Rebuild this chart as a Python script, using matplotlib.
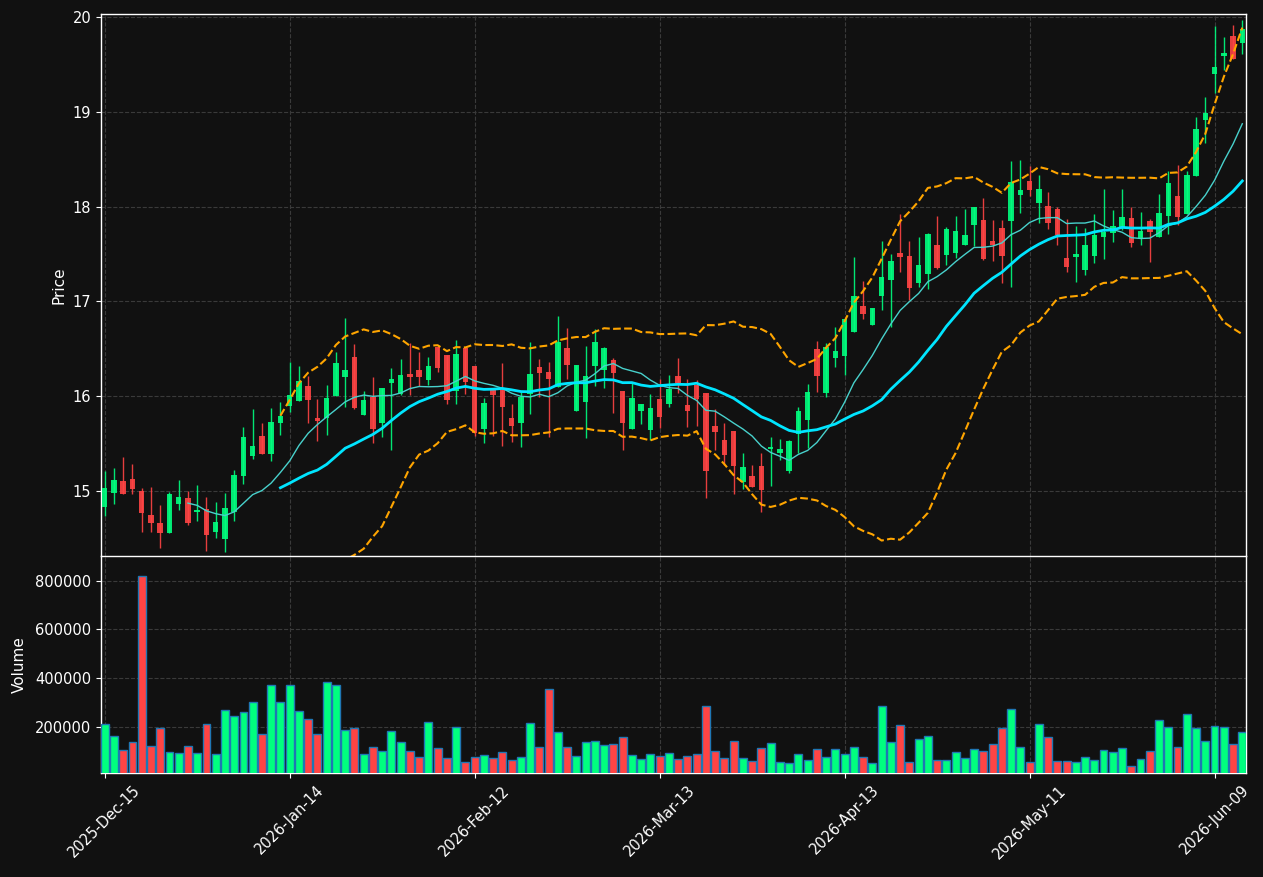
import numpy as np
import pandas as pd
import matplotlib
matplotlib.use("Agg")
import matplotlib.pyplot as plt

opens = [14.835, 14.983, 15.106, 15.127, 15.0, 14.747, 14.663, 14.561, 14.866, 14.926,
         14.782, 14.81, 14.571, 14.497, 14.782, 15.162, 15.373, 15.58, 15.394, 15.721,
         15.90, 15.953, 16.108, 15.774, 15.774, 16.002, 16.206, 16.414, 15.805, 15.995,
         15.721, 16.143, 16.023, 16.234, 16.277, 16.171, 16.516, 16.435, 16.059, 16.505,
         16.319, 15.654, 16.066, 16.066, 15.77, 15.721, 16.023, 16.308, 16.256, 16.101,
         16.509, 15.848, 15.943, 16.322, 16.28, 16.382, 16.055, 15.658, 15.848, 15.647,
         15.971, 15.921, 16.213, 15.907, 16.118, 16.033, 15.685, 15.538, 15.633, 15.098,
         15.158, 15.263, 15.446, 15.404, 15.211, 15.604, 15.752, 16.498, 16.038, 16.407,
         16.428, 16.681, 16.952, 16.755, 17.061, 17.23, 17.514, 17.479, 17.198, 17.293,
         17.595, 17.49, 17.514, 17.595, 17.806, 17.859, 17.637, 17.774, 17.852, 18.122,
         18.27, 18.041, 18.006, 17.975, 17.458, 17.472, 17.331, 17.483, 17.683, 17.725,
         17.788, 17.88, 17.655, 17.848, 17.683, 17.905, 18.112, 17.922, 18.326, 18.917,
         19.402, 19.592, 19.80, 19.729]
highs = [15.215, 15.239, 15.355, 15.285, 15.028, 15.042, 14.849, 14.986, 15.116, 14.997,
         15.06, 14.933, 14.881, 14.975, 15.222, 15.672, 15.862, 15.714, 15.872, 15.943,
         16.361, 16.315, 16.213, 15.967, 16.115, 16.47, 16.822, 16.547, 16.052, 16.199,
         16.087, 16.294, 16.396, 16.558, 16.463, 16.417, 16.53, 16.435, 16.59, 16.505,
         16.319, 15.985, 16.066, 16.347, 15.914, 16.048, 16.568, 16.389, 16.361, 16.846,
         16.716, 16.329, 16.53, 16.706, 16.523, 16.403, 16.055, 16.147, 15.918, 16.02,
         16.178, 16.22, 16.399, 16.185, 16.167, 16.033, 15.861, 15.713, 15.633, 15.397,
         15.274, 15.397, 15.566, 15.545, 15.538, 15.882, 16.125, 16.579, 16.558, 16.734,
         16.815, 17.465, 17.212, 16.931, 17.634, 17.497, 17.919, 17.634, 17.676, 17.718,
         17.901, 17.78, 17.901, 17.971, 17.992, 18.087, 17.859, 17.859, 18.477, 18.492,
         18.428, 18.33, 18.15, 17.992, 17.866, 17.795, 17.771, 17.922, 18.182, 17.964,
         18.182, 17.999, 17.94, 17.866, 18.13, 18.379, 18.442, 18.379, 18.949, 19.16,
         19.905, 19.786, 19.916, 19.969]
lows = [14.74, 14.859, 14.965, 14.972, 14.571, 14.564, 14.402, 14.561, 14.796, 14.638,
        14.68, 14.364, 14.501, 14.353, 14.68, 15.077, 15.334, 15.394, 15.32, 15.587,
        15.837, 15.953, 15.721, 15.524, 15.594, 16.002, 15.89, 15.865, 15.805, 15.503,
        15.573, 15.433, 16.013, 16.013, 16.108, 16.118, 16.259, 15.914, 15.914, 16.02,
        15.58, 15.503, 15.58, 15.478, 15.514, 15.461, 15.809, 15.995, 15.573, 16.101,
        16.178, 15.848, 15.556, 16.111, 16.09, 15.819, 15.433, 15.658, 15.707, 15.538,
        15.661, 15.886, 16.037, 15.671, 15.685, 14.922, 15.432, 15.274, 14.965, 15.017,
        15.045, 14.78, 15.056, 15.327, 15.193, 15.397, 15.455, 16.041, 15.988, 16.312,
        16.224, 16.681, 16.811, 16.755, 16.906, 16.727, 17.314, 17.015, 17.156, 17.128,
        17.342, 17.384, 17.454, 17.595, 17.584, 17.437, 17.43, 17.198, 17.155, 17.929,
        18.112, 17.823, 17.767, 17.591, 17.31, 17.205, 17.275, 17.40, 17.45, 17.623,
        17.753, 17.578, 17.595, 17.42, 17.683, 17.711, 17.806, 17.922, 18.326, 18.668,
        19.195, 19.44, 19.561, 19.606]
closes = [15.035, 15.116, 14.972, 15.025, 14.772, 14.666, 14.561, 14.968, 14.937, 14.666,
          14.8, 14.539, 14.673, 14.821, 15.169, 15.57, 15.475, 15.394, 15.728, 15.791,
          16.013, 16.161, 15.964, 15.742, 15.981, 16.35, 16.277, 15.879, 15.96, 15.658,
          16.087, 16.182, 16.224, 16.203, 16.203, 16.319, 16.301, 15.964, 16.445, 16.154,
          15.616, 15.925, 16.013, 15.89, 15.689, 15.992, 16.234, 16.248, 16.182, 16.575,
          16.333, 16.329, 16.213, 16.572, 16.509, 16.248, 15.721, 15.981, 15.918, 15.876,
          15.784, 16.076, 16.135, 15.844, 15.967, 15.211, 15.626, 15.379, 15.263, 15.253,
          15.045, 15.014, 15.464, 15.443, 15.527, 15.844, 16.042, 16.217, 16.519, 16.477,
          16.815, 17.057, 16.871, 16.931, 17.258, 17.427, 17.472, 17.145, 17.384, 17.711,
          17.356, 17.764, 17.743, 17.697, 17.992, 17.447, 17.595, 17.479, 18.259, 18.175,
          18.175, 18.186, 17.831, 17.70, 17.366, 17.50, 17.595, 17.701, 17.732, 17.796,
          17.89, 17.613, 17.746, 17.736, 17.933, 18.249, 17.89, 18.333, 18.819, 18.988,
          19.473, 19.62, 19.561, 19.874]
volumes = [212000, 163000, 105600, 138400, 819000, 122000, 195800, 97400, 93300, 122000,
           93300, 212000, 89200, 269600, 245000, 261400, 302400, 171200, 372100, 302400,
           372100, 265500, 232700, 171200, 384400, 372100, 187600, 195800, 89200, 117900,
           101500, 183500, 138400, 101500, 76700, 220400, 113800, 72700, 199900, 56400,
           76700, 85100, 72700, 97400, 64600, 76700, 216300, 117900, 355700, 179400,
           117900, 81000, 138400, 142500, 126000, 130200, 158900, 85100, 68600, 89200,
           81000, 93300, 68600, 81000, 89200, 286000, 101500, 72700, 142500, 72700,
           60500, 113800, 134300, 56400, 52300, 89200, 64600, 109700, 76700, 109700,
           89200, 117900, 76700, 52300, 286000, 138400, 208100, 56400, 150700, 163000,
           64600, 64600, 97400, 72700, 109700, 101500, 130200, 195800, 273700, 117900,
           56400, 212200, 158900, 60500, 60500, 56400, 76700, 64600, 105600, 97400,
           113800, 39900, 68600, 101500, 228600, 199900, 117900, 253200, 195800, 142500,
           204000, 199900, 130200, 179400]
tick_labels = ['2025-Dec-15', '2026-Jan-14', '2026-Feb-12', '2026-Mar-13',
               '2026-Apr-13', '2026-May-11', '2026-Jun-09']

BG = '#111111'
UP = '#00ff7f'
DOWN = '#ff4444'
FG = 'white'

o = np.array(opens); h = np.array(highs); l = np.array(lows); c = np.array(closes)
v = np.array(volumes)
n = len(c)
x = np.arange(n)
up = c >= o
cols = np.where(up, UP, DOWN)

cs = pd.Series(c)
mav10 = cs.rolling(10).mean()
mav20 = cs.rolling(20).mean()
std20 = cs.rolling(20).std()
bb_up = mav20 + 2 * std20
bb_lo = mav20 - 2 * std20

fig = plt.figure(figsize=(12.63, 8.77), dpi=100, facecolor=BG)
W, H = 1263, 877
ax = fig.add_axes([101 / W, (H - 556) / H, (1246 - 101) / W, (556 - 14) / H])
axv = fig.add_axes([101 / W, (H - 773) / H, (1246 - 101) / W, (773 - 556) / H], sharex=ax)

for a in (ax, axv):
    a.set_facecolor(BG)
    for s in a.spines.values():
        s.set_color(FG)
        s.set_linewidth(1.0)
    a.tick_params(colors=FG, labelsize=10.5)
    a.grid(True, color='#3a3a3a', linestyle='--', linewidth=0.8)
    a.set_axisbelow(True)

# candles
ax.vlines(x, l, h, colors=cols, linewidth=1.0, alpha=0.9, zorder=2)
ax.bar(x, np.abs(c - o), bottom=np.minimum(o, c), width=0.6, color=cols,
       alpha=0.9, linewidth=0, zorder=3)

ax.plot(x, mav10, color='#48d1cc', linewidth=1.0, zorder=4)
ax.plot(x, mav20, color='#00e5ff', linewidth=2.0, zorder=4)
ax.plot(x, bb_up, color='#ffa500', linestyle='--', linewidth=1.5, zorder=5)
ax.plot(x, bb_lo, color='#ffa500', linestyle='--', linewidth=1.5, zorder=5)

ax.set_ylim(14.314, 20.032)
ax.set_yticks([15, 16, 17, 18, 19, 20])
ax.set_ylabel('Price', color=FG, fontsize=11)
ax.tick_params(axis='x', labelbottom=False, length=0)
ax.spines['bottom'].set_visible(False)

# volume
axv.bar(x, v, width=0.85, color=cols, edgecolor='#1f77b4', linewidth=1.0, zorder=3)
axv.set_ylim(0.3 * v.min(), 1.1 * v.max())
axv.set_yticks([200000, 400000, 600000, 800000])
axv.set_yticklabels(['200000', '400000', '600000', '800000'])
axv.set_ylabel('Volume', color=FG, fontsize=11, labelpad=6)

axv.set_xlim(-0.4, n - 1 + 0.4)
ticks = list(range(0, n, 20))
axv.set_xticks(ticks)
axv.set_xticklabels(tick_labels[:len(ticks)], rotation=45, ha='center')

fig.savefig('out.png', dpi=100, facecolor=BG)
